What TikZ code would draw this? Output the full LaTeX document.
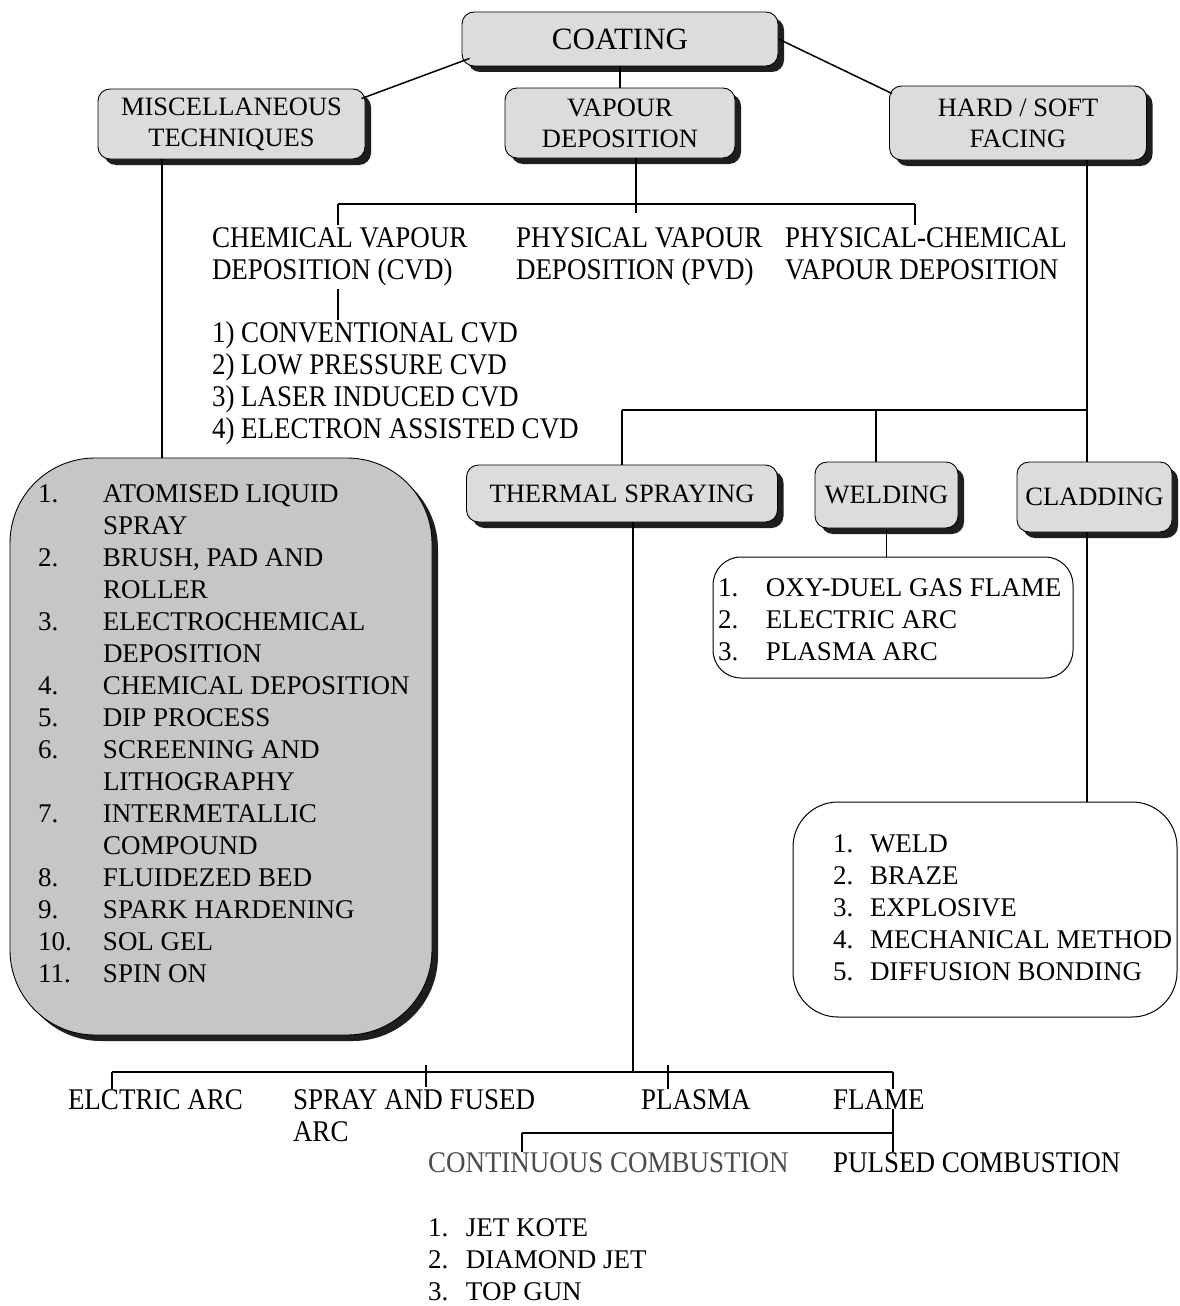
\documentclass[tikz,border=0pt]{standalone}
\usepackage{fontspec}
\setmainfont{Liberation Serif}
\newfontfamily\condfont{Liberation Serif}[FakeStretch=0.9]
\usetikzlibrary{shadows,calc}
\definecolor{boxgray}{HTML}{DCDCDC}
\definecolor{biggray}{HTML}{C6C6C6}
\definecolor{shadowgray}{HTML}{1E1E1E}
\newcommand\tl[1]{\begin{tabular}[t]{@{}l@{}}#1\end{tabular}}
\newcommand\nA[1]{\makebox[65pt][l]{#1}}
\newcommand\nW[1]{\makebox[48pt][l]{#1}}
\newcommand\nC[1]{\makebox[37pt][l]{#1}}
\newcommand\nJ[1]{\makebox[38pt][l]{#1}}
\begin{document}
\begin{tikzpicture}[x=1pt,y=-1pt,
  conn/.style={line width=1.5pt},
  sbox/.style={draw=black, line width=0.9pt, fill=boxgray, rounded corners=12pt,
     drop shadow={shadow xshift=6pt, shadow yshift=-6pt, fill=shadowgray, opacity=1},
     font=\fontsize{26.5}{31}\selectfont, align=center, inner sep=0pt},
  lbox/.style={draw=black, line width=1pt, inner sep=0pt},
  txt/.style={font=\fontsize{27}{32}\selectfont, inner sep=0pt, outer sep=0pt, anchor=base west},
  ctxt/.style={txt, font=\condfont\fontsize{30}{32}\selectfont}]
\fill[white] (0,0) rectangle (1179,1306);
\useasboundingbox (0,0) rectangle (1179,1306);

% ---- top level boxes
\node[sbox, minimum width=316pt, minimum height=54pt, font=\fontsize{31}{36}\selectfont] (coat) at (620,39) {COATING};
\node[sbox, minimum width=267pt, minimum height=70pt] (misc) at (231.5,124) {MISCELLANEOUS\\TECHNIQUES};
\node[sbox, minimum width=230pt, minimum height=70pt] (vap) at (620,123) {VAPOUR\\DEPOSITION};
\node[sbox, minimum width=257pt, minimum height=74pt] (hard) at (1018,123) {HARD / SOFT\\FACING};

% ---- second level boxes
\node[sbox, minimum width=311pt, minimum height=57pt] (therm) at (622,493.5) {THERMAL SPRAYING};
\node[sbox, minimum width=143pt, minimum height=66pt] (weld) at (886.5,495) {WELDING};
\node[sbox, minimum width=155pt, minimum height=70pt] (clad) at (1094.5,497) {CLADDING};

% ---- big misc list box
\node[sbox, fill=biggray, rounded corners=85pt, minimum width=422pt, minimum height=577pt] (mlbox) at (221,746.5) {};
\node[txt] (mlist) at (38,502) {\tl{\nA{1.}ATOMISED LIQUID\\ \nA{}SPRAY\\ \nA{2.}BRUSH, PAD AND\\ \nA{}ROLLER\\
 \nA{3.}ELECTROCHEMICAL\\ \nA{}DEPOSITION\\ \nA{4.}CHEMICAL DEPOSITION\\ \nA{5.}DIP PROCESS\\
 \nA{6.}SCREENING AND\\ \nA{}LITHOGRAPHY\\ \nA{7.}INTERMETALLIC\\ \nA{}COMPOUND\\
 \nA{8.}FLUIDEZED BED\\ \nA{9.}SPARK HARDENING\\ \nA{10.}SOL GEL\\ \nA{11.}SPIN ON}};

% ---- vapour deposition texts
\node[ctxt] (cvd) at (212,247) {\tl{CHEMICAL VAPOUR\\DEPOSITION (CVD)}};
\node[ctxt] (pvd) at (516,247) {\tl{PHYSICAL VAPOUR\\DEPOSITION (PVD)}};
\node[ctxt] (pcvd) at (785,247) {\tl{PHYSICAL-CHEMICAL\\VAPOUR DEPOSITION}};
\node[ctxt] (cvdlist) at (212,342) {\tl{1) CONVENTIONAL CVD\\2) LOW PRESSURE CVD\\3) LASER INDUCED CVD\\4) ELECTRON ASSISTED CVD}};

% ---- welding list
\node[lbox, rounded corners=28pt, minimum width=360pt, minimum height=121pt] (wbox) at (893,617.5) {};
\node[txt] (wlist) at (718,596) {\tl{\nW{1.}OXY-DUEL GAS FLAME\\ \nW{2.}ELECTRIC ARC\\ \nW{3.}PLASMA ARC}};

% ---- cladding list
\node[lbox, rounded corners=45pt, minimum width=384pt, minimum height=215pt] (cbox) at (985,909.5) {};
\node[txt] (clist) at (833,852) {\tl{\nC{1.}WELD\\ \nC{2.}BRAZE\\ \nC{3.}EXPLOSIVE\\ \nC{4.}MECHANICAL METHOD\\ \nC{5.}DIFFUSION BONDING}};

% ---- thermal spraying texts
\node[ctxt] (earc) at (68,1109) {ELCTRIC ARC};
\node[ctxt] (sfa) at (293,1109) {\tl{SPRAY AND FUSED\\ARC}};
\node[ctxt] (plasma) at (641,1109) {PLASMA};
\node[ctxt] (flame) at (833,1109) {FLAME};
\node[ctxt, text=black!70] (cc) at (428,1172) {CONTINUOUS COMBUSTION};
\node[ctxt] (pc) at (833,1172) {PULSED COMBUSTION};
\node[txt] (jlist) at (428,1236) {\tl{\nJ{1.}JET KOTE\\ \nJ{2.}DIAMOND JET\\ \nJ{3.}TOP GUN}};

% ---- junction coordinates
\coordinate (mx) at (162,0);
\coordinate (vL) at (338,204);
\coordinate (vR) at (915,204);
\coordinate (vM) at (636,204);
\coordinate (hL) at (622,410);
\coordinate (hW) at (876,410);
\coordinate (hj) at (1087,410);
\coordinate (tx) at (633,1072);
\coordinate (t1) at (112,1072);
\coordinate (t2) at (426,1072);
\coordinate (t3) at (668,1072);
\coordinate (t4) at (893,1072);
\coordinate (fL) at (522,1133);
\coordinate (fR) at (893,1133);

% ---- connectors
\draw[conn] (coat.south) -- (vap.north);
\draw[conn] ($(coat.south west)+(8,-8)$) -- ($(misc.north east)+(-4,10)$);
\draw[conn] (coat.east) -- ($(hard.north west)+(3,8)$);
\draw[conn] (misc.south -| mx) -- (mlbox.north -| mx);

\draw[conn] (vap.south -| vM) -- ($(vM)+(0,9)$);
\draw[conn] (vL) -- (vR);
\draw[conn] (vL) -- (cvd.north -| vL);
\draw[conn] (vR) -- (pcvd.north -| vR);
\draw[conn] (cvd.south -| vL) -- (cvdlist.north -| vL);

\draw[conn] (hard.south -| hj) -- (clad.north -| hj);
\draw[conn] (hL) -- (hj);
\draw[conn] (hL) -- (therm.north -| hL);
\draw[conn] (hW) -- (weld.north -| hW);
\draw[conn] (weld.south) -- (weld.south |- wbox.north);
\draw[conn] (clad.south -| hj) -- (cbox.north -| hj);

\draw[conn] (therm.south -| tx) -- (tx);
\draw[conn] (t1) -- (t4);
\draw[conn] (t1) -- (t1 |- earc.north);
\draw[conn] ($(t2)+(0,-7)$) -- (t2 |- sfa.north);
\draw[conn] ($(t3)+(0,-7)$) -- (t3 |- plasma.north);
\draw[conn] (t4) -- (t4 |- flame.north);
\draw[conn] (flame.south -| fR) -- (pc.north -| fR);
\draw[conn] (fL) -- (fR);
\draw[conn] (fL) -- (cc.north -| fL);
\end{tikzpicture}
\end{document}
